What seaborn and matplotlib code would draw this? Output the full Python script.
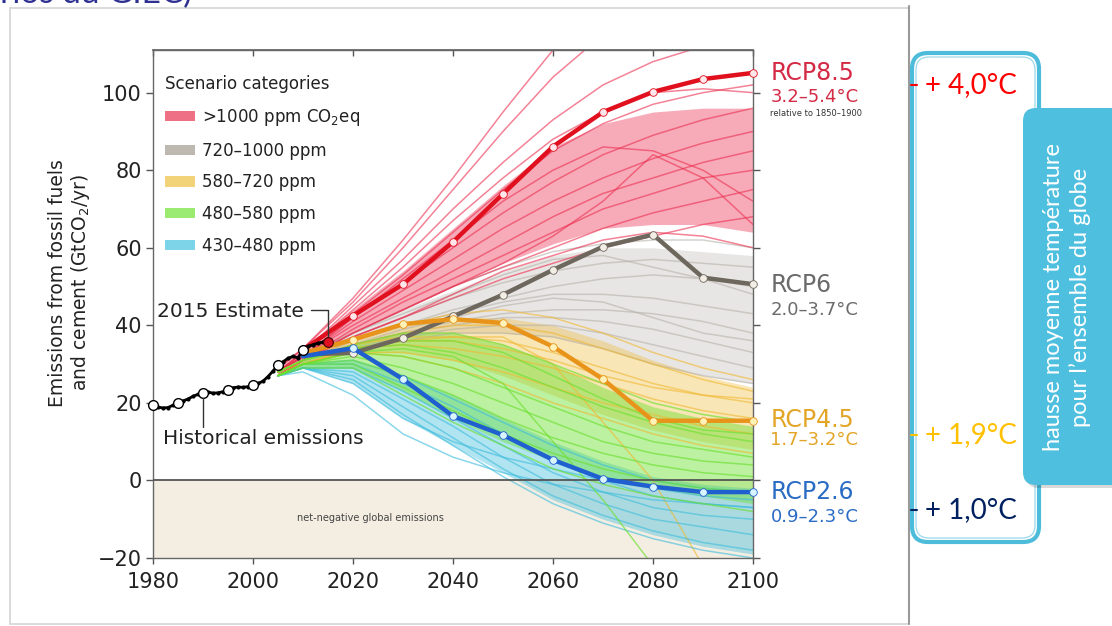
import numpy as np
import pandas as pd
import matplotlib
matplotlib.use("Agg")
import matplotlib.pyplot as plt
import seaborn as sns
from matplotlib.patches import FancyBboxPatch, Rectangle, Patch
from matplotlib.lines import Line2D

# ---------------- data ----------------
hist_years = list(range(1980, 2016))
hist_vals = [19.5, 18.9, 18.7, 18.8, 19.4, 20.0, 20.5, 21.0, 21.7, 22.2,
             22.6, 22.8, 22.5, 22.6, 22.9, 23.4, 23.9, 24.1, 24.0, 24.2,
             24.6, 25.0, 25.6, 26.8, 28.2, 29.8, 30.6, 31.5, 32.0, 31.6,
             33.7, 34.6, 35.0, 35.4, 35.7, 35.8]
hist_marker_years = [1980, 1985, 1990, 1995, 2000, 2005, 2010]

rcp_years = [2010, 2020, 2030, 2040, 2050, 2060, 2070, 2080, 2090, 2100]
rcp85 = [33.7, 42.5, 50.6, 61.5, 73.9, 86.1, 95.0, 100.2, 103.5, 105.1]
rcp6 = [32.5, 32.9, 36.7, 42.3, 47.9, 54.3, 60.3, 63.4, 52.3, 50.6]
rcp45 = [32.8, 36.3, 40.3, 41.6, 40.6, 34.5, 26.1, 15.4, 15.4, 15.4]
rcp26 = [32.0, 34.1, 26.1, 16.6, 11.7, 5.3, 0.4, -1.6, -3.0, -3.0]

ens_years = [2005, 2010, 2020, 2030, 2040, 2050, 2060, 2070, 2080, 2090, 2100]

red_paths = [
    [29, 34, 47, 62, 78, 95, 111, 125, 135, 140, 145],
    [29, 34, 46, 60, 75, 90, 104, 115, 125, 130, 135],
    [28, 33, 45, 57, 70, 82, 93, 102, 108, 112, 115],
    [28, 33, 43, 53, 64, 75, 85, 92, 97, 100, 102],
    [28, 32, 42, 51, 60, 69, 77, 84, 89, 93, 96],
    [28, 32, 41, 49, 57, 65, 72, 78, 83, 87, 90],
    [28, 32, 40, 47, 54, 61, 68, 74, 78, 82, 85],
    [27, 31, 39, 46, 52, 58, 64, 70, 74, 78, 80],
    [27, 31, 38, 44, 50, 55, 60, 65, 69, 72, 75],
    [27, 31, 38, 44, 50, 56, 63, 72, 84, 78, 66],
    [27, 31, 37, 42, 47, 52, 56, 60, 63, 66, 68],
    [27, 31, 37, 42, 48, 54, 58, 62, 64, 63, 60],
    [28, 33, 44, 55, 67, 78, 88, 95, 100, 101, 100],
    [28, 32, 42, 52, 62, 72, 80, 86, 85, 80, 72],
]
gray_paths = [
    [28, 32, 38, 44, 50, 55, 59, 61, 62, 62, 60],
    [28, 32, 37, 42, 47, 51, 54, 56, 57, 56, 55],
    [28, 31, 36, 40, 44, 47, 50, 52, 53, 52, 50],
    [28, 31, 36, 40, 43, 46, 48, 48, 47, 45, 43],
    [27, 31, 35, 38, 41, 43, 44, 44, 43, 41, 38],
    [27, 31, 35, 38, 40, 42, 42, 41, 39, 36, 33],
    [27, 30, 34, 37, 39, 40, 40, 38, 35, 32, 29],
    [28, 32, 38, 43, 48, 53, 57, 58, 55, 52, 48],
    [27, 31, 35, 39, 42, 45, 47, 46, 42, 38, 36],
    [27, 30, 34, 36, 38, 38, 37, 34, 30, 27, 25],
]
yellow_paths = [
    [28, 31, 36, 40, 43, 44, 42, 38, 33, 29, 26],
    [28, 31, 35, 38, 40, 40, 38, 34, 30, 26, 23],
    [27, 31, 35, 37, 37, 36, 33, 29, 25, 22, 20],
    [27, 30, 34, 35, 34, 32, 29, 25, 21, 18, 16],
    [27, 30, 33, 33, 31, 28, 24, 20, 17, 14, 12],
    [27, 30, 33, 32, 29, 25, 20, 16, 12, 9, 7],
    [27, 30, 34, 36, 37, 37, 30, 15, 0, -22, -40],
    [27, 30, 34, 36, 36, 34, 31, 27, 24, 22, 21],
]
green_paths = [
    [28, 31, 35, 38, 38, 35, 30, 25, 20, 17, 15],
    [28, 31, 34, 35, 33, 29, 24, 19, 15, 12, 10],
    [27, 30, 33, 32, 29, 24, 19, 14, 10, 8, 6],
    [27, 30, 32, 29, 25, 20, 15, 10, 7, 5, 4],
    [27, 30, 31, 27, 22, 16, 11, 7, 4, 2, 1],
    [27, 30, 30, 24, 18, 12, 7, 3, 0, -2, -3],
    [27, 29, 29, 22, 15, 9, 3, -1, -4, -6, -8],
    [27, 30, 33, 34, 32, 25, 10, -5, -22, -40, -55],
    [28, 31, 34, 36, 36, 33, 27, 21, 16, 13, 12],
]
cyan_paths = [
    [27, 30, 31, 27, 21, 15, 9, 4, 0, -2, -3],
    [27, 30, 30, 25, 19, 12, 5, 0, -4, -6, -7],
    [27, 29, 29, 23, 16, 9, 2, -3, -7, -9, -10],
    [27, 29, 28, 21, 14, 6, -1, -6, -10, -12, -14],
    [27, 29, 27, 19, 11, 3, -4, -9, -13, -16, -18],
    [27, 29, 26, 17, 9, 1, -6, -11, -15, -18, -20],
    [27, 29, 25, 16, 10, 6, 3, 0, -2, -4, -5],
    [27, 28, 22, 12, 6, 2, -1, -3, -5, -6, -7],
]

red_lo = [27, 31, 38, 44, 50, 56, 61, 65, 66, 66, 64]
red_hi = [30, 34, 44, 54, 65, 76, 86, 92, 95, 96, 96]
gray_lo = [27, 30, 34, 37, 38, 38, 37, 34, 30, 27, 25]
gray_hi = [28, 32, 38, 44, 49, 54, 58, 60, 60, 59, 58]
yellow_lo = [27, 30, 33, 33, 31, 27, 22, 17, 13, 10, 8]
yellow_hi = [28, 31, 36, 40, 42, 42, 40, 36, 31, 27, 24]
green_lo = [27, 29, 29, 23, 16, 10, 5, 1, -2, -4, -6]
green_hi = [28, 31, 35, 38, 38, 35, 30, 24, 19, 16, 14]
cyan_lo = [27, 29, 25, 16, 9, 2, -5, -10, -14, -17, -19]
cyan_hi = [27, 30, 31, 27, 22, 16, 10, 5, 1, -1, -2]

category_labels = [">1000 ppm CO$_2$eq", "720–1000 ppm", "580–720 ppm",
                   "480–580 ppm", "430–480 ppm"]
x_ticks = [1980, 2000, 2020, 2040, 2060, 2080, 2100]
y_ticks = [-20, 0, 20, 40, 60, 80, 100]

# ---------------- style ----------------
sns.set_theme(style="white")
plt.rcParams["font.family"] = ["DejaVu Sans"]
plt.rcParams["axes.unicode_minus"] = True

W, H = 1112, 626
fig = plt.figure(figsize=(W / 100, H / 100), dpi=100)
fig.patch.set_facecolor("white")


def fx(x):
    return x / W


def fy(y):
    return 1 - y / H


def inch(x, y):
    return x / 100, (H - y) / 100


# slide panel behind the chart
panel = Rectangle(inch(10, 624), (909 - 10) / 100, (624 - 8) / 100,
                  transform=fig.dpi_scale_trans, fc="white", ec="#D4D4D4",
                  lw=1.2, zorder=-10)
fig.patches.append(panel)
fig.lines.append(Line2D([fx(909), fx(909)], [fy(6), fy(624)],
                        transform=fig.transFigure, color="#9A9A9A", lw=1.5,
                        zorder=-9))

fig.text(fx(192), fy(3), "(scénarios du GIEC)", ha="right", va="baseline",
         fontsize=24, color="#2E3192", family=["Lato", "DejaVu Sans"])

ax = fig.add_axes([fx(153), fy(558), (753 - 153) / W, (558 - 50) / H])
ax.set_facecolor("white")
ax.set_xlim(1980, 2100)
ax.set_ylim(-20, 111)

# net-negative region
ax.axhspan(-20, 0, color="#F4EEE2", zorder=0)
ax.text(2023.5, -9.7, "net-negative global emissions", ha="center",
        va="center", fontsize=7, color="#444444", zorder=6)

cats = [
    (gray_paths, gray_lo, gray_hi, "#B3AEA6", "#BDB8B0", 0.30, 0.55),
    (red_paths, red_lo, red_hi, "#EC2F50", "#EE7084", 0.40, 0.60),
    (yellow_paths, yellow_lo, yellow_hi, "#F0B830", "#F3D37A", 0.35, 0.60),
    (cyan_paths, cyan_lo, cyan_hi, "#3CBCDC", "#7DD3E8", 0.40, 0.60),
    (green_paths, green_lo, green_hi, "#6CE030", "#9BEB72", 0.45, 0.65),
]
for paths, lo, hi, col, _, fa, la in cats:
    ax.fill_between(ens_years, lo, hi, color=col, alpha=fa, lw=0, zorder=1)
    for p in paths:
        ax.plot(ens_years, p, color=col, alpha=la, lw=1.1, zorder=2)

ax.axhline(0, color="#555555", lw=1.3, zorder=5)

# RCP pathways
rcps = [
    (rcp6, "#6E675E", "#F2EEE6"),
    (rcp45, "#E8941A", "#FFF2B8"),
    (rcp26, "#1F5FD0", "#D8F4FF"),
    (rcp85, "#E0101E", "#FFE6EA"),
]
for vals, col, mfc in rcps:
    sns.lineplot(x=rcp_years, y=vals, ax=ax, color=col, lw=3.2, zorder=7,
                 marker="o", markersize=5.5, markerfacecolor=mfc,
                 markeredgecolor=col, markeredgewidth=0.6,
                 markevery=list(range(1, len(rcp_years))), clip_on=False)

# historical
hist_df = pd.DataFrame({"year": hist_years, "val": hist_vals})
sns.lineplot(data=hist_df, x="year", y="val", ax=ax, color="black", lw=2.0,
             marker="o", markersize=3, markeredgewidth=0, zorder=8)
hm = hist_df[hist_df["year"].isin(hist_marker_years)]
ax.plot(hm["year"], hm["val"], "o", ms=7, mfc="white", mec="black",
        mew=1.0, zorder=9, clip_on=False)
ax.plot([hist_years[-1]], [hist_vals[-1]], "o", ms=7, mfc="#E01020",
        mec="#400000", mew=0.8, zorder=9)

# annotations
ax.text(1980.8, 43.5, "2015 Estimate", ha="left", va="center", fontsize=14.5,
        color="#222222", zorder=10)
ax.plot([2011.5, 2015, 2015], [44, 44, 37.3], color="#333333", lw=1.0,
        zorder=10)
ax.text(1982, 10.7, "Historical emissions", ha="left", va="center",
        fontsize=14.5, color="#222222", zorder=10)
ax.plot([1990, 1990], [21.3, 13.8], color="#333333", lw=1.0, zorder=10)

# right labels
rx = 2103.5
lab = [
    ("RCP8.5", "3.2–5.4°C", 105.0, 99.0, "#D42A45"),
    ("RCP6", "2.0–3.7°C", 50.5, 44.0, "#6B6B6B"),
    ("RCP4.5", "1.7–3.2°C", 15.6, 10.4, "#E3A526"),
    ("RCP2.6", "0.9–2.3°C", -3.0, -9.4, "#2A6CC4"),
]
for name, rng, y1, y2, col in lab:
    ax.text(rx, y1, name, ha="left", va="center", fontsize=17, color=col,
            clip_on=False)
    ax.text(rx, y2, rng, ha="left", va="center", fontsize=13, color=col,
            clip_on=False)
ax.text(rx, 94.6, "relative to 1850–1900", ha="left", va="center",
        fontsize=6, color="#333333", clip_on=False)

# axes styling
ax.set_xticks(x_ticks)
ax.set_yticks(y_ticks)
ax.set_xlabel("")
ax.set_ylabel("")
ax.grid(False)
for s in ax.spines.values():
    s.set_color("#666666")
    s.set_linewidth(1.0)
    s.set_visible(True)
ax.tick_params(axis="y", which="both", left=True, right=True,
               direction="out", length=5, width=1, color="#555555",
               labelsize=15, labelcolor="#222222", pad=3)
ax.tick_params(axis="x", which="both", bottom=True, direction="out",
               length=4, width=1, color="#555555", labelsize=15,
               labelcolor="#222222", pad=6)
top = ax.secondary_xaxis("top")
top.set_xticks(x_ticks)
top.tick_params(direction="in", length=4, width=1, color="#555555",
                labeltop=False)
top.spines["top"].set_color("#666666")

# legend
handles = [Patch(facecolor=c[4], edgecolor="none") for c in
           [cats[1], cats[0], cats[2], cats[4], cats[3]]]
leg = ax.legend(handles, category_labels, title="Scenario categories",
                loc="upper left", bbox_to_anchor=(0.02, 0.950),
                frameon=False, fontsize=12, title_fontsize=12,
                alignment="left", labelspacing=0.82, handlelength=1.8,
                handleheight=0.55, handletextpad=0.45, borderpad=0,
                borderaxespad=0)
leg.set_zorder(11)
for t in leg.get_texts():
    t.set_color("#222222")
leg.get_title().set_color("#222222")

fig.text(fx(70), fy(283),
         "Emissions from fossil fuels\nand cement (GtCO$_2$/yr)",
         rotation=90, ha="center", va="center", fontsize=13.5,
         color="#222222", multialignment="center", linespacing=1.15)

# right side box
box = FancyBboxPatch(inch(912, 542), (1039 - 912) / 100, (542 - 53) / 100,
                     boxstyle="round,pad=0,rounding_size=0.16",
                     transform=fig.dpi_scale_trans, fc="white",
                     ec="#4DBBDA", lw=3, zorder=1)
fig.patches.append(box)
box_in = FancyBboxPatch(inch(916, 538), (1035 - 916) / 100, (538 - 57) / 100,
                        boxstyle="round,pad=0,rounding_size=0.13",
                        transform=fig.dpi_scale_trans, fc="none",
                        ec="#9AD8EA", lw=0.9, zorder=1.1)
fig.patches.append(box_in)

shadow = FancyBboxPatch(inch(1026, 488), (1130 - 1026) / 100,
                        (488 - 111) / 100,
                        boxstyle="round,pad=0,rounding_size=0.13",
                        transform=fig.dpi_scale_trans, fc=(0, 0, 0, 0.15),
                        ec="none", zorder=1.5)
fig.patches.append(shadow)
tab = FancyBboxPatch(inch(1023, 485), (1130 - 1023) / 100, (485 - 108) / 100,
                     boxstyle="round,pad=0,rounding_size=0.13",
                     transform=fig.dpi_scale_trans, fc="#4FBFDF",
                     ec="none", zorder=2)
fig.patches.append(tab)
fig.text(fx(1067), fy(297),
         "hausse moyenne température\npour l’ensemble du globe",
         rotation=90, ha="center", va="center", fontsize=17,
         color="white", family=["Lato", "DejaVu Sans"],
         multialignment="center", linespacing=1.25, zorder=5)

temps = [("+ 4,0°C", 85, "#FF0000"), ("+ 1,9°C", 435, "#FFC000"),
         ("+ 1,0°C", 510, "#002060")]
for txt, yy, col in temps:
    fig.text(fx(925), fy(yy), txt, ha="left", va="center", fontsize=20,
             color=col, family=["Lato", "DejaVu Sans"], zorder=5)
    fig.lines.append(Line2D([fx(911), fx(917)], [fy(yy), fy(yy)],
                            transform=fig.transFigure, color=col, lw=1.5,
                            zorder=5))

fig.savefig("out.png", dpi=100)
